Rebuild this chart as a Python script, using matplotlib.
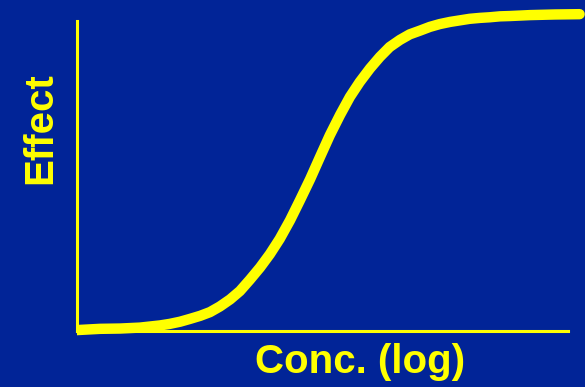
import matplotlib
matplotlib.use("Agg")
import matplotlib.pyplot as plt

log_conc = [0.00, 0.47, 0.88, 1.28, 1.69, 1.89, 2.10, 2.30, 2.51, 2.71,
            2.91, 3.12, 3.32, 3.52, 3.73, 3.93, 4.13, 4.34, 4.54, 4.75,
            4.95, 5.15, 5.36, 5.56, 5.76, 5.97, 6.17, 6.37, 6.58, 6.78,
            6.99, 7.19, 7.39, 7.60, 7.80, 8.00, 8.21, 8.41, 8.62, 8.82,
            9.23, 9.74, 10.24]
effect = [0.3, 0.7, 0.8, 1.1, 1.8, 2.3, 3.0, 3.9, 4.9, 6.1,
          7.9, 10.2, 12.9, 16.5, 20.5, 24.8, 29.7, 35.7, 42.1, 49.0,
          56.1, 63.1, 69.7, 75.5, 80.3, 84.7, 88.4, 91.6, 93.9, 95.7,
          96.9, 98.1, 99.0, 99.7, 100.2, 100.7, 101.0, 101.2, 101.5, 101.6,
          101.9, 102.1, 102.2]

bg = '#012497'
yellow = '#FFFF00'

fig = plt.figure(figsize=(5.85, 3.87), dpi=100, facecolor=bg)
ax = fig.add_axes([77 / 585, 0, 1 - 77 / 585, 1])
ax.set_facecolor(bg)

ax.set_xlim(0, 10.35)
ax.set_ylim(-18.06, 106.77)

ax.plot(log_conc, effect, color=yellow, linewidth=7.5,
        solid_capstyle='round', solid_joinstyle='round', zorder=3)

# only the two axis lines, no ticks
for side in ['top', 'right']:
    ax.spines[side].set_visible(False)
ax.spines['bottom'].set_position(('data', 0))
ax.spines['bottom'].set_bounds(0, 10)
ax.spines['left'].set_bounds(0, 100)
for side in ['bottom', 'left']:
    ax.spines[side].set_color(yellow)
    ax.spines[side].set_linewidth(2.2)
ax.set_xticks([])
ax.set_yticks([])

fig.text(360 / 585, 1 - 373 / 387, 'Conc. (log)', color=yellow,
         fontsize=29, fontweight='bold', family='Liberation Sans',
         ha='center', va='baseline')
fig.text(40 / 585, 1 - 128 / 387, 'Effect', color=yellow,
         fontsize=29, fontweight='bold', family='Liberation Sans',
         ha='center', va='center', rotation=90)

fig.savefig('out.png', dpi=100, facecolor=bg)
